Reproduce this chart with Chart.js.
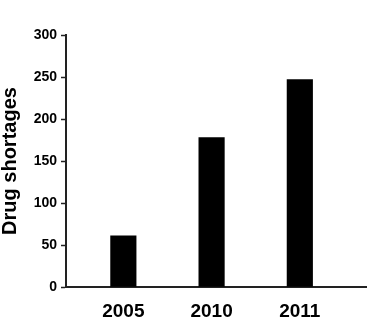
<!DOCTYPE html>
<html>
<head>
<meta charset="utf-8">
<script src="https://cdn.jsdelivr.net/npm/chart.js@4/dist/chart.umd.min.js"></script>
<style>
  html, body { margin: 0; padding: 0; background: #fff; }
  #wrap { width: 390px; height: 335px; }
</style>
</head>
<body>
<div id="wrap"><canvas id="chart"></canvas></div>
<script>
const years = ["2005", "2010", "2011"];
const shortages = [61, 178, 247];
const yTicks = [0, 50, 100, 150, 200, 250, 300];

const axisColor = "#222";
const fontFamily = "'Liberation Sans', Arial, sans-serif";

new Chart(document.getElementById("chart"), {
    type: "bar",
    data: {
        datasets: [
            {
                data: years.map((y, i) => ({ x: i, y: shortages[i] })),
                backgroundColor: "#000",
                borderWidth: 0,
                barThickness: 25.5,
            },
        ],
    },
    options: {
        responsive: true,
        maintainAspectRatio: false,
        animation: false,
        layout: {
            padding: { top: 35, right: 24, left: 0, bottom: 0 },
        },
        plugins: {
            legend: { display: false },
            tooltip: { enabled: false },
        },
        scales: {
            x: {
                type: "linear",
                offset: false,
                min: -0.65,
                max: 2.75,
                afterBuildTicks: (scale) => {
                    scale.ticks = years.map((y, i) => ({ value: i }));
                },
                afterFit: (scale) => {
                    scale.height = 48;
                },
                ticks: {
                    callback: (v) => years[v],
                    color: "#000",
                    font: { family: fontFamily, size: 19, weight: "bold" },
                    padding: 13,
                    maxRotation: 0,
                },
                grid: { drawOnChartArea: false, drawTicks: false },
                border: { color: axisColor, width: 2 },
            },
            y: {
                min: 0,
                max: 300,
                afterBuildTicks: (scale) => {
                    scale.ticks = yTicks.map((v) => ({ value: v }));
                },
                afterFit: (scale) => {
                    scale.width = 66;
                },
                ticks: {
                    color: "#000",
                    font: { family: fontFamily, size: 14, weight: "bold" },
                    padding: 4,
                },
                grid: {
                    drawOnChartArea: false,
                    tickLength: 5,
                    tickColor: axisColor,
                    tickWidth: 1.5,
                },
                border: { color: axisColor, width: 2 },
                title: {
                    display: true,
                    text: "Drug shortages",
                    color: "#000",
                    font: { family: fontFamily, size: 20, weight: "bold", lineHeight: 1 },
                    padding: { top: 0, bottom: 0 },
                },
            },
        },
    },
});
</script>
</body>
</html>
